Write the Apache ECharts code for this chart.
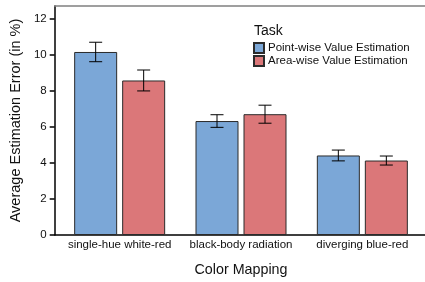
<!DOCTYPE html>
<html>
<head>
<meta charset="utf-8">
<script src="https://cdn.jsdelivr.net/npm/echarts@6/dist/echarts.min.js"></script>
<style>
  html, body { margin: 0; padding: 0; background: #fff; }
  #chart { width: 425px; height: 282px; }
</style>
</head>
<body>
<div id="chart"></div>
<script>
const categories = ['single-hue white-red', 'black-body radiation', 'diverging blue-red']
const taskNames = ['Point-wise Value Estimation', 'Area-wise Value Estimation']
const pointMean = [10.15, 6.32, 4.41]
const pointErr = [0.54, 0.35, 0.3]
const areaMean = [8.57, 6.7, 4.13]
const areaErr = [0.58, 0.5, 0.25]
const yTicks = [0, 2, 4, 6, 8, 10, 12]
const yMax = 12.7

const colors = ['#7BA7D7', '#DB7779']
const barWidth = 43
const barGapPx = 5
const font = 'Liberation Sans, Arial, sans-serif'

// error bar renderer, shifted to the bar centre of its series
function errorBars(offset) {
  return function(params, api) {
    const cat = api.value(0)
    const lo = api.coord([cat, api.value(1)])
    const hi = api.coord([cat, api.value(2)])
    const x = lo[0] + offset
    const cap = 6.5
    const style = { stroke: '#000', lineWidth: 1 }
    return {
      type: 'group',
      children: [
        { type: 'line', shape: { x1: x, y1: hi[1], x2: x, y2: lo[1] }, style },
        { type: 'line', shape: { x1: x - cap, y1: hi[1], x2: x + cap, y2: hi[1] }, style },
        { type: 'line', shape: { x1: x - cap, y1: lo[1], x2: x + cap, y2: lo[1] }, style }
      ]
    }
  }
}

function errData(mean, err) {
  return mean.map((m, i) => [i, m - err[i], m + err[i]])
}

const half = (barWidth + barGapPx) / 2
const chart = echarts.init(document.getElementById('chart'))

const option = {
  animation: false,
  textStyle: { fontFamily: font },
  title: {
    text: 'Task',
    left: 249,
    top: 19,
    textStyle: { fontSize: 14, fontWeight: 'normal', color: '#111', fontFamily: font }
  },
  legend: {
    data: taskNames,
    orient: 'vertical',
    left: 253,
    top: 42,
    padding: 0,
    icon: 'rect',
    itemWidth: 10,
    itemHeight: 10,
    itemGap: 1,
    textStyle: { fontSize: 11.5, lineHeight: 11, color: '#111', fontFamily: font, padding: [0, 0, 0, -1] }
  },
  grid: [
    { left: 53, right: 0, top: 6, bottom: 47 },
    { left: 59, right: 2, top: 6, bottom: 47 }
  ],
  xAxis: [
    {
      gridIndex: 0, type: 'value', min: 0, max: 1, position: 'bottom',
      axisLine: { lineStyle: { color: '#000', width: 1.5 } },
      axisTick: { show: false }, axisLabel: { show: false }, splitLine: { show: false }
    },
    {
      gridIndex: 0, type: 'value', min: 0, max: 1, position: 'top',
      axisLine: { lineStyle: { color: '#808080', width: 1.5 } },
      axisTick: { show: false }, axisLabel: { show: false }, splitLine: { show: false }
    },
    {
      gridIndex: 1, type: 'category', data: categories,
      axisLine: { show: false }, axisTick: { show: false },
      axisLabel: { interval: 0, hideOverlap: false, fontSize: 11.5, color: '#111', margin: 4, fontFamily: font },
      name: 'Color Mapping', nameLocation: 'middle', nameGap: 28,
      nameTextStyle: { fontSize: 14.3, color: '#111', fontFamily: font }
    }
  ],
  yAxis: [
    {
      gridIndex: 0, type: 'value', min: 0, max: yMax,
      axisLine: { show: true, lineStyle: { color: '#000', width: 1.5 } },
      axisTick: { show: true, length: 5, customValues: yTicks, lineStyle: { color: '#000', width: 1.5 } },
      axisLabel: { customValues: yTicks, fontSize: 11.5, color: '#111', margin: 8, fontFamily: font },
      splitLine: { show: false },
      name: 'Average Estimation Error (in %)', nameLocation: 'middle', nameGap: 31,
      nameTextStyle: { fontSize: 14.5, color: '#111', fontFamily: font }
    },
    {
      gridIndex: 1, type: 'value', min: 0, max: yMax, show: false
    }
  ],
  series: [
    {
      name: taskNames[0], type: 'bar', xAxisIndex: 2, yAxisIndex: 1,
      data: pointMean, barWidth: barWidth, barGap: (barGapPx / barWidth * 100) + '%',
      itemStyle: { color: colors[0], borderColor: '#2b2b2b', borderWidth: 1 }
    },
    {
      name: taskNames[1], type: 'bar', xAxisIndex: 2, yAxisIndex: 1,
      data: areaMean, barWidth: barWidth,
      itemStyle: { color: colors[1], borderColor: '#2b2b2b', borderWidth: 1 }
    },
    {
      type: 'custom', xAxisIndex: 2, yAxisIndex: 1, z: 5,
      renderItem: errorBars(-half), data: errData(pointMean, pointErr)
    },
    {
      type: 'custom', xAxisIndex: 2, yAxisIndex: 1, z: 5,
      renderItem: errorBars(half), data: errData(areaMean, areaErr)
    }
  ]
}

chart.setOption(option)
</script>
</body>
</html>
